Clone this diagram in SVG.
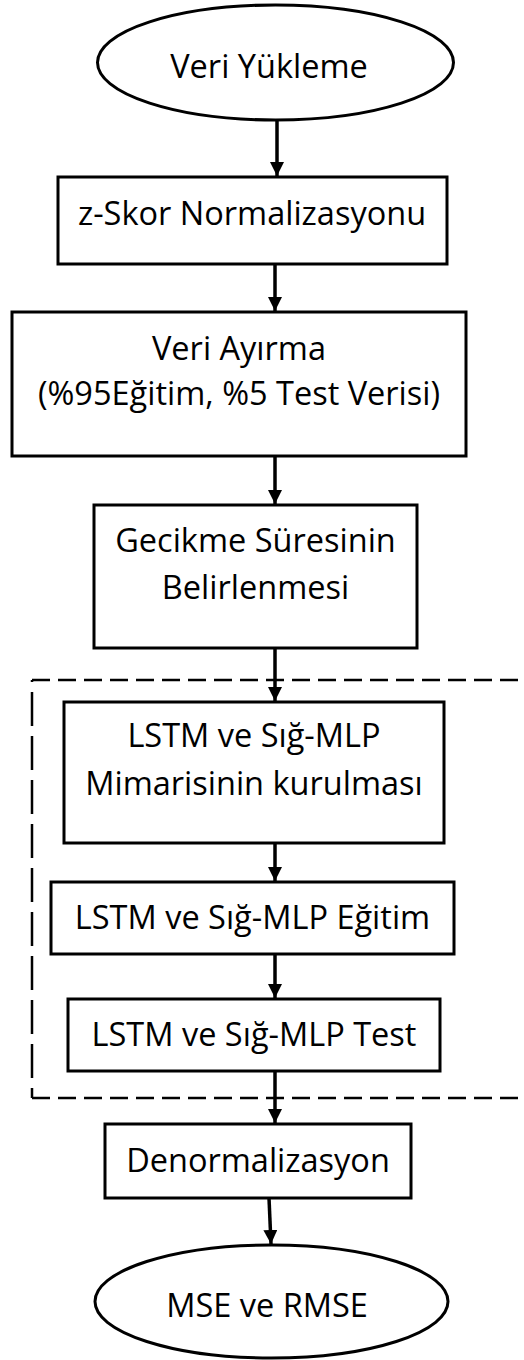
<svg xmlns="http://www.w3.org/2000/svg" width="524" height="1360" viewBox="0 0 524 1360">
<style>
.box{fill:#fff;stroke:#000;stroke-width:3}
.lbl{font-family:"Open Sans","Noto Sans","Liberation Sans",sans-serif;font-size:32.5px;fill:#000;text-anchor:middle}
.conn{stroke:#000;stroke-width:3.5;fill:none}
.dash{stroke:#000;stroke-width:2.5;fill:none}
</style>
<defs>
<marker id="ah" viewBox="0 0 14 14" refX="14" refY="7" markerWidth="14" markerHeight="14" markerUnits="userSpaceOnUse" orient="auto">
<path d="M0,0 L14,7 L0,14 Z" fill="#000"/>
</marker>
</defs>
<rect width="524" height="1360" fill="#fff"/>
<g id="group-box">
<line class="dash" x1="32" y1="680" x2="524" y2="680" stroke-dasharray="18,8"/>
<line class="dash" x1="32" y1="1098" x2="524" y2="1098" stroke-dasharray="18,8"/>
<line class="dash" x1="32" y1="680" x2="32" y2="1098" stroke-dasharray="34,10" stroke-dashoffset="-12"/>
</g>
<g id="n1"><ellipse class="box" cx="275.5" cy="62.5" rx="178" ry="57.5"/><text class="lbl" x="269" y="78">Veri Yükleme</text></g>
<g id="n2"><rect class="box" x="58" y="177" width="389" height="87"/><text class="lbl" x="252" y="225">z-Skor Normalizasyonu</text></g>
<g id="n3"><rect class="box" x="12" y="312" width="454" height="144"/><text class="lbl" x="239" y="360">Veri Ayırma</text><text class="lbl" x="239" y="405">(%95Eğitim, %5 Test Verisi)</text></g>
<g id="n4"><rect class="box" x="94" y="505" width="323" height="143"/><text class="lbl" x="255.5" y="552">Gecikme Süresinin</text><text class="lbl" x="255.5" y="599">Belirlenmesi</text></g>
<g id="n5"><rect class="box" x="64" y="702" width="380" height="141"/><text class="lbl" x="254" y="747">LSTM ve Sığ-MLP</text><text class="lbl" x="254" y="795">Mimarisinin kurulması</text></g>
<g id="n6"><rect class="box" x="51" y="882" width="403" height="72"/><text class="lbl" x="252.5" y="929">LSTM ve Sığ-MLP Eğitim</text></g>
<g id="n7"><rect class="box" x="68" y="999" width="372" height="72"/><text class="lbl" x="254" y="1046">LSTM ve Sığ-MLP Test</text></g>
<g id="n8"><rect class="box" x="105" y="1124" width="306" height="74"/><text class="lbl" x="258" y="1172">Denormalizasyon</text></g>
<g id="n9"><ellipse class="box" cx="271.5" cy="1301.5" rx="176.5" ry="56.5"/><text class="lbl" x="267" y="1317">MSE ve RMSE</text></g>
<g id="connectors">
<line class="conn" x1="277" y1="120" x2="277" y2="176" marker-end="url(#ah)"/>
<line class="conn" x1="275" y1="264" x2="275" y2="311" marker-end="url(#ah)"/>
<line class="conn" x1="275" y1="456" x2="275" y2="504" marker-end="url(#ah)"/>
<line class="conn" x1="275" y1="648" x2="275" y2="701" marker-end="url(#ah)"/>
<line class="conn" x1="275" y1="843" x2="275" y2="881" marker-end="url(#ah)"/>
<line class="conn" x1="275" y1="954" x2="275" y2="998" marker-end="url(#ah)"/>
<line class="conn" x1="275" y1="1071" x2="275" y2="1123" marker-end="url(#ah)"/>
<line class="conn" x1="269" y1="1198" x2="271" y2="1244" marker-end="url(#ah)"/>
</g>
</svg>
